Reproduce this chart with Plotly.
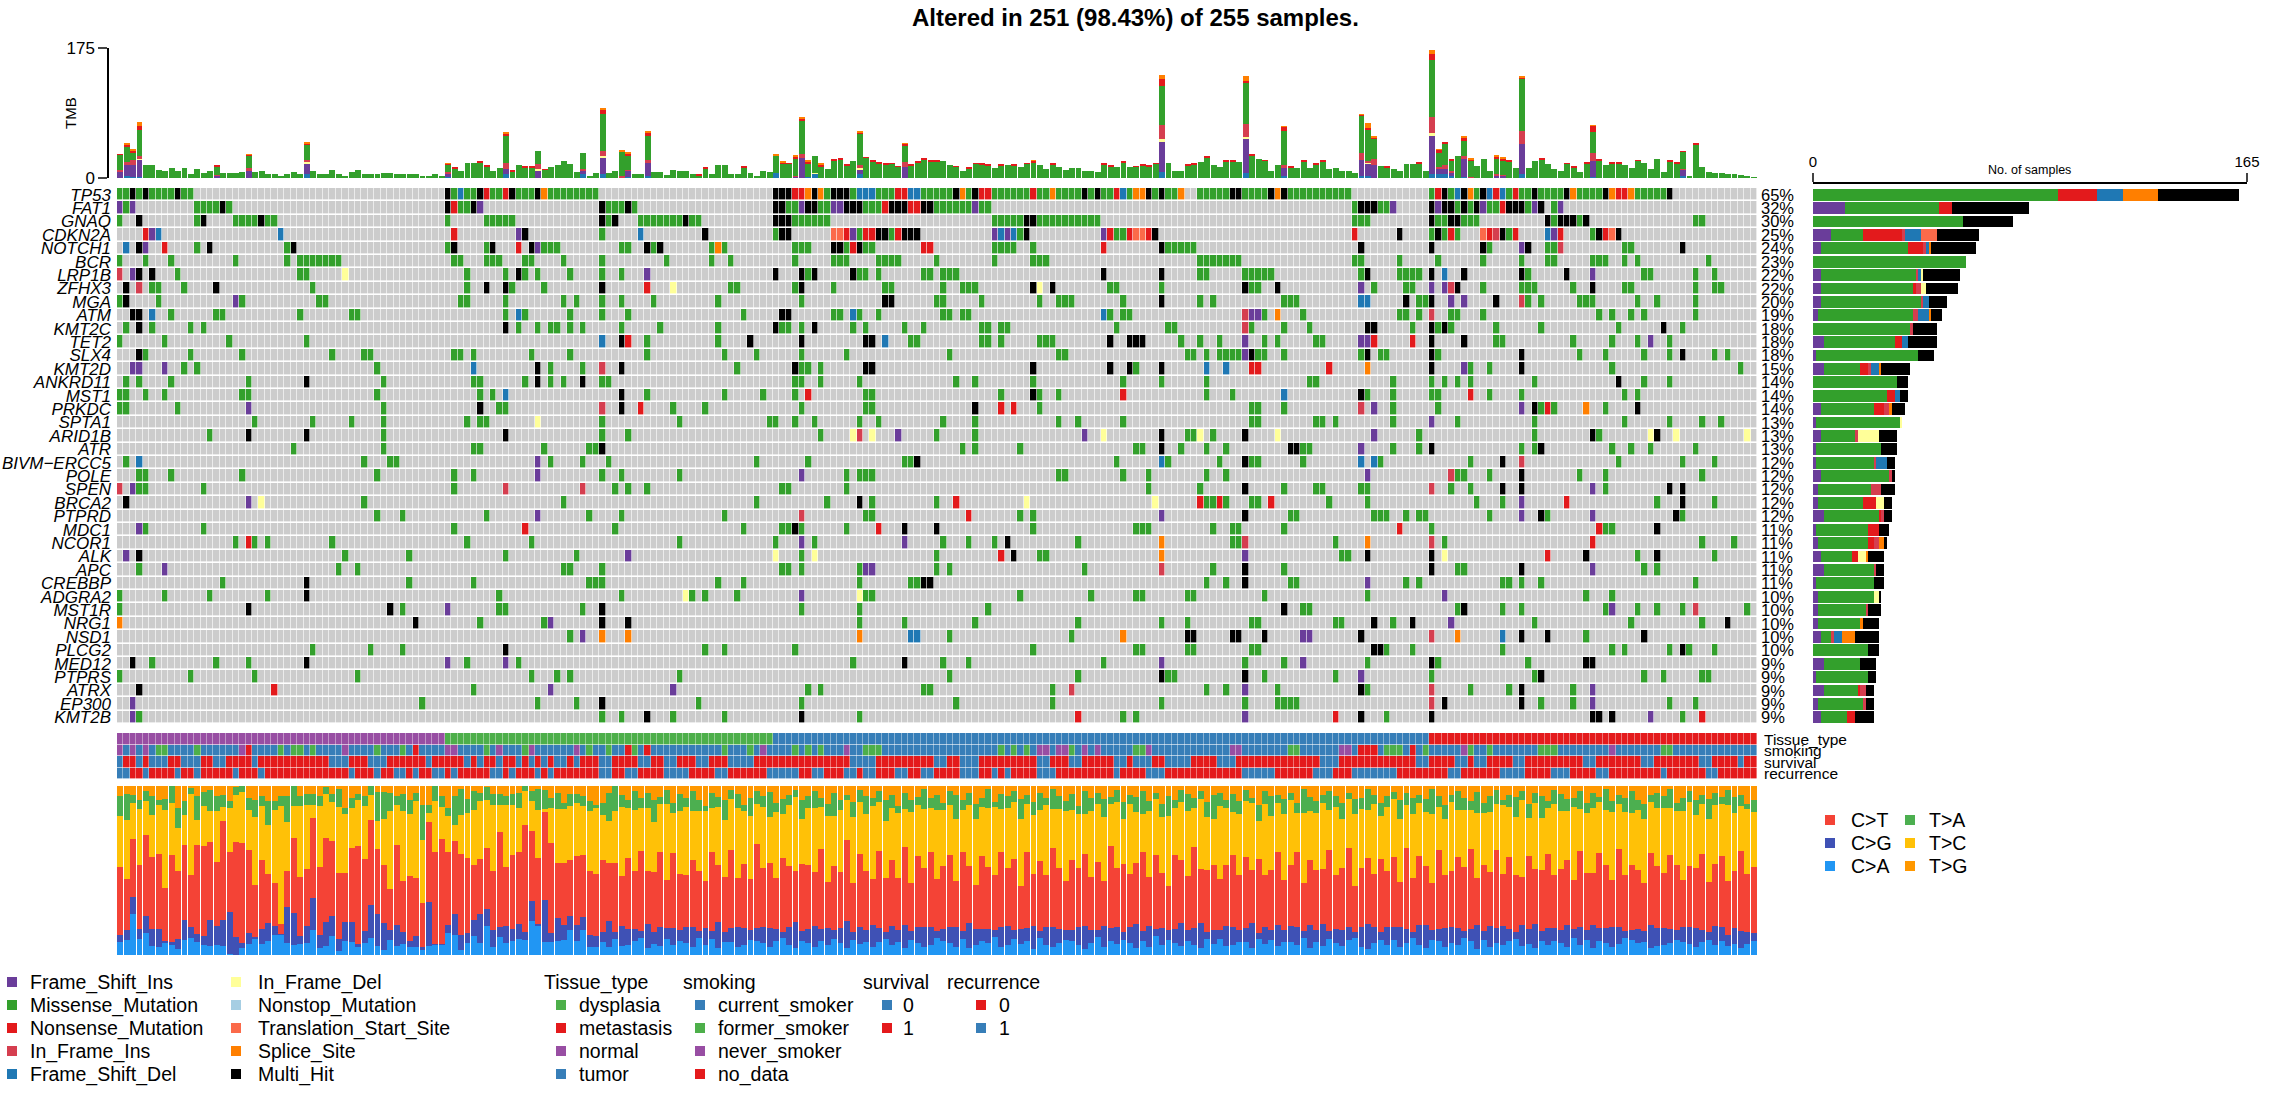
import plotly.graph_objects as go

W, H = 2272, 1097
N = 255
TITLE = "Altered in 251 (98.43%) of 255 samples."

GENES = ["TP53","FAT1","GNAQ","CDKN2A","NOTCH1","BCR","LRP1B","ZFHX3","MGA","ATM","KMT2C","TET2","SLX4","KMT2D",
         "ANKRD11","MST1","PRKDC","SPTA1","ARID1B","ATR","BIVM\u2212ERCC5","POLE","SPEN","BRCA2","PTPRD","MDC1",
         "NCOR1","ALK","APC","CREBBP","ADGRA2","MST1R","NRG1","NSD1","PLCG2","MED12","PTPRS","ATRX","EP300","KMT2B"]
PERCENT = [65,32,30,25,24,23,22,22,20,19,18,18,18,15,14,14,14,13,13,13,12,12,12,12,12,11,11,11,11,11,10,10,10,10,10,9,9,9,9,9]

VARIANTS = ["Frame_Shift_Ins","Missense_Mutation","Nonsense_Mutation","In_Frame_Ins","Frame_Shift_Del",
            "In_Frame_Del","Nonstop_Mutation","Translation_Start_Site","Splice_Site","Multi_Hit"]
VARIANT_CODES = ["P","M","N","I","D","F","S","T","O","K"]
VARIANT_COLORS = ["#6A3D9A","#33A02C","#E31A1C","#D53E4F","#1F78B4","#FFFF99","#A6CEE3","#FB6A4A","#FF7F00","#000000"]

# sample positions of each alteration, one string per gene
CALLS = [
"M:0,1,3,5-8,10,11,52,54,55,58,59,62-64,67-74,110,114,118-120,125-129,132,136-141,143,144,146-149,151,153,154,157,161,163,164,168-172,175-178,182-191,204,207,211,216,218,219,221-224,227-230,236-240 K:2,4,9,51,56,61,65,102-104,108,111-113,130,133,150,152,160,162,173,174,179,181,206,209,212,220,225,231,241 D:53,115-117,123,124,156,208,213,215 N:57,60,105,106,121,122,134,135,142,155,205,214,217,233,234 O:66,107,109,131,145,158,159,165,180,210,226,232,235",
"P:0,2,56,106,111,112,133,198,205,212,220,224 M:1,12-15,17,53,54,76-78,80,104,105,109,110,116-118,127-132,134,135,192,196,197,208,210,213,214,219,223 K:16,51,55,75,79,102,103,107,108,113-115,120-122,125,126,193-195,204,206,207,209,211,216-218,221 N:52,119,123,124,215",
"M:0,12,18-21,23,24,51,57-61,76,81-87,89,90,105-110,136-140,143-152,192-194,205,206,209-211,223,227,245,246 K:3,13,22,75,77,88,102-104,141,142,204,207,208,222,224-226,228",
"N:4,52,113,116,117,121,154,157,160,192,207,213,217,224,231 P:5,62,114,136,138,153,223 D:6,25,81,137,139,222 K:63,91,103,104,118,119,122-124,141,161,199,205,215,230,233 M:75,102,115,120,140,155,156,204,206,208,216,229 T:111,112,158,159,212,232 I:214",
"D:1 K:3,14,27,52,58,64,82,84,111,112,115,162,193,204,212,219,243 P:4,65,218 N:7,62,114,125,126,153 M:12,26,51,57,66-68,78,79,83,92,94,105-107,113,116,117,136-139,142,163-167,213,222,223,234,235 O:93 I:224",
"M:0,4,8,18,26,28-34,52,53,57-59,63,64,69,75,85,92,95,105,111-113,118-121,127,136,142-144,168-174,192,193,199,205,212,218,222,223,229-231,234,236,247",
"I:0 P:2,82,229 K:3,5,62,102,106,108,114,153,162,194,204,209,218,225 M:9,28,29,54,60,63,65,70,75,78,107,115,116,118,125,126,128-130,168,169,175-179,193,199-202,219,237,238,245,248 F:35 D:206",
"K:1,15,57,60,75,106,142,145,175,180,208,229 I:3,207 M:5,6,10,30,54,61,66,95,96,105,111,119,120,128,131-133,154,155,162,176,177,195,200,201,212,218-220,226,234,235,245,248,249 N:82 F:86,143 P:193,204,206",
"M:0,6,19,31,32,53,54,60,69,71,75,78,83,93,106,127,128,134,143,146-148,156,168,170,181-183,202,203,219,221,227-229,236,239,245 K:1,119,120,162,200,204,214 P:18,207,209 D:193,194 I:218",
"K:2,3,103,104 D:5,62,114,153 M:8,15,16,28,36,37,60,63,70,75,79,97,111,112,115,118,128,129,131,132,154,156,157,178,184,199,200,202,207,208,212,230,232,235,237,245 I:175,204 P:176,177 O:180",
"M:1,5,11,13,62,65,67,68,70,72,78,84,93,103,104,106,114,116,122,125,134,135,137,138,155,163,164,176,181,185,201,205,207,214,221,233,243 K:3,60,102,108,194,195,204,206,240 I:175",
"M:0,7,17,29,82,93,123,124,134,135,137,143-145,165,168,171,178,180,186,187,214,215,226,232,236,241 D:75,119 K:78,98,106,116,117,154,157-159,204,209 N:79,195,201 P:175,193,194,238",
"K:3,176,194,204,218,243 M:4,11,19,33,38,39,52,53,55,64,70,82,94,99,106,113,129,146,147,166,167,169,171-174,177,178,181,193,196,197,205,227,231,237,241,248,250 P:175",
"P:2,3,7,209 M:10,12,40,67,72,96,106,107,109,158,210,213,232,252 D:55,169,172 K:65,78,105,116,117,142,154,157,162,204,218 I:75 N:176,177,188 O:194",
"M:1,3,8,20,41,55,56,63,67,69,75,76,105,106,109,115,130,133,142,156,162,169,185,186,198,204,206,208,210,220,237,241 K:29,65,72,233",
"M:0,1,4,7,19,20,40,56,58,82,94,100,105,116,117,137,143,146,169,173,194,198,204,205,213,218,234,236 D:60,181 K:78,142,193 N:107,156,210",
"M:0,1,9,41,59,60,86,91,106,116,117,143,176,177,181,198,205,221,223,231 P:20,195,218 K:56,78,133,220,236 I:75,193 N:81,137,139,222 O:228",
"M:21,30,36,41,54,56,57,75,87,101,102,105,108,115,118,128,133,146,149,156,176,177,186,187,189,198,208,220,234,241,246,249 F:65 P:204",
"M:14,41,75,79,109,127,133,166,167,170,202,220,230 K:20,29,60,162,175,229,239 F:114,117,153,168,180,238,242,253 I:115 P:121,150,195",
"M:27,41,55,56,66,73,74,131,133,140,158,159,165,169,172,184,185,198,202,218,220,232,235,238,245 K:75,162,182,183,204,221 P:193",
"M:1,38,42,43,67,72,76,99,107,122,123,155,163,171,176,177,184,196,210,233,243,248 D:3,162,193,195 P:65 K:124,175,215 I:218",
"M:3,4,8,19,40,52,55,75,78,87,113,115-117,146,147,156,160,169,172,208,209,213,227,231,246 P:65,106,194 I:207 K:218",
"I:0,60,72,204 P:2,229 M:3,4,13,52,77,79,82,103,104,113,160,168,181,186,187,193,194,207,210,231 K:175,215,218,241,243",
"K:1,115,243 P:20,218 F:22,141,161 M:38,69,99,110,117,127,169,170,172,176,177,188,194,211,215,239,248 N:130,168,171,179,225",
"M:40,44,57,73,78,94,116,117,140,142,182,183,195-197,200,202,203,213,222,243 P:65,162,218,229 I:106 N:132 K:175,221,242",
"P:3 M:4,13,52,77,97,103,104,106,113,142,158-160,170,173,174,181,204,231,232 N:63,118,199,230 K:105,122,127,239",
"M:18,21,23,33,54,64,87,102,108,128,132,136,149,173,174,189,206,246,251 N:20,229 P:106,122 K:138 O:162,194 I:175,204",
"P:1,79,175 K:3,139,194,204,228,239 M:35,45,60,71,106,127,143,144,190,191,236,248 F:102,108,206 N:137,222 O:162",
"M:3,34,37,69,70,75,103,104,106,115,127,129,150,170,181,208,209,237,239 P:7,116,117,229 I:162 K:175,204,218",
"M:16,45,55,73-75,93,97,115,123,124,169,172,182,183,200,202,215,216,218,221,245 K:29,125,126,175 P:194",
"M:0,7,14,23,59,78,89,91,96,116,117,140,151,158,159,166,167,178,194,228,232 K:29 F:88,115 P:106,206",
"M:0,44,59,60,72,106,115,135,184,185,208,215,218,231,236,239,243,253 K:20,42,75,181,209 P:51,232 I:245",
"O:0 K:46,75,79,195,201,250 M:56,66,115,122,133,149,162,166,176,177,189,190,198,220,235,246 P:67,207",
"M:70,129,148,228 P:72,184,185 O:75,79,115,156,208 D:123,124,215 K:166,167,173,174,178,193,218,222,237 I:204",
"M:30,39,44,91,94,105,142,158,159,166,167,176,177,197,201,215,232,234,241,244,248 K:60,195,196,243",
"M:5,15,20,54,62,114,128,132,153,175,181,194,205,219 K:2,29,122,204,228,229 P:51,60,162,184",
"M:0,11,21,37,64,68,70,87,129,149,163,164,178,189,204,220,237,240,246,247 K:162,175,221 P:193",
"K:3,193,218 N:24 M:55,107,109,125,126,145,169,172,180,194,210,216,226 P:67,86,175,229 I:148,204",
"P:2,229 M:47,65,71,90,106,130,145,162,175,180-183,221,226,241,245 K:75,206,218 I:204",
"P:2,175,238 M:3,75,78,86,94,115,156,158,197,243 K:82,106,193,204,229,230,232 N:149,189,246",
]

TMB_TOTAL = [32,46,38,75,17,17,11,10,13,10,14,6,12,7,10,17,7,7,7,8,32,8,10,5,5,3,5,8,5,48,9,5,5,11,5,3,8,11,5,5,5,7,7,6,5,5,5,
             2,3,5,3,
             20,14,9,20,20,22,17,10,14,61,10,18,15,15,37,12,15,18,23,19,8,33,3,7,94,7,9,37,34,5,5,62,8,8,4,11,10,10,5,5,14,6,18,17,5,6,15,7,3,10,8,31,22,20,30,82,23,29,19,12,25,
             26,18,23,62,28,23,21,19,20,16,47,18,22,26,23,23,23,18,16,10,14,20,19,18,13,18,17,18,15,20,24,18,12,19,15,11,13,14,9,9,8,19,17,15,22,15,16,18,17,20,138,20,10,9,18,19,22,29,17,15,23,23,22,137,31,26,
             24,10,17,70,15,14,23,14,19,23,12,14,9,9,7,86,74,56,16,15,12,9,19,19,21,9,172,39,48,26,30,56,26,16,26,9,30,27,23,13,136,13,23,26,19,12,10,
             20,15,8,21,71,25,18,21,21,17,14,24,20,12,25,8,23,21,36,3,46,15,8,7,7,6,6,4,3,1]
# sample: (Frame_Shift_Del, Frame_Shift_Ins, In_Frame_Del, In_Frame_Ins, Nonsense, Splice); the remainder is Missense
TMB_PARTS = {0:(0,8,0,3,1,0),1:(3,15,0,4,2,1),2:(2,15,0,7,4,1),3:(1,24,1,4,6,5),15:(0,3,0,1,1,0),20:(0,10,0,3,1,1),29:(6,13,2,3,2,1),
             51:(2,3,0,3,1,1),60:(6,6,0,8,3,1),65:(0,9,3,7,0,0),72:(6,3,0,3,0,0),75:(5,22,2,7,5,3),78:(0,1,0,2,0,1),79:(1,9,0,1,3,1),82:(3,17,0,4,4,1),
             102:(7,0,0,0,0,1),103:(0,0,0,0,2,1),105:(0,2,0,1,3,1),106:(0,27,0,5,2,3),107:(1,0,0,0,2,1),108:(6,0,1,0,0,0),109:(0,0,0,0,2,1),
             115:(6,6,1,5,1,1),122:(0,15,0,6,2,1),142:(0,0,0,0,3,1),162:(8,41,3,20,9,5),175:(7,46,2,18,2,7),181:(3,11,0,3,6,1),
             193:(3,21,0,10,1,1),194:(3,17,1,2,2,7),195:(0,18,0,8,3,1),204:(6,51,3,22,8,5),205:(5,8,0,2,4,1),206:(5,7,0,5,1,0),207:(3,5,0,1,2,0),209:(1,24,0,5,5,1),
             210:(0,0,0,2,1,1),214:(0,4,0,1,3,1),215:(0,3,0,1,2,1),218:(5,41,0,17,1,1),229:(1,22,0,11,8,1),243:(3,8,0,1,1,0),245:(0,0,0,0,1,0)}
TMB_RED_TIP = [52,56,57,61,63,64,66,90,91,97,103,104,111,112,113,116,117,118,119,120,121,123,124,125,126,127,130,132,133,134,135,137,139,141,145,153,154,156,158,159,160,161,
               166,167,169,172,173,176,178,182,184,186,187,197,202,216,221,225,226,228,230,232,233,236,241,242]

ANNO_LABELS = ["Tissue_type","smoking","survival","recurrence"]
TISSUE_COUNTS = [("normal",51),("dysplasia",51),("tumor",102),("metastasis",51)]
SMOKING_FORMER = [6,7,12,25,27,28,30,40,44,57,63,73,76,80,94,98,105,107,109,116,117,118,137,139,141,148,158,159,182,183,197,198,199,203,210,213,221,222,223,240,241]
SMOKING_NEVER = [0,2,4,19,35,51,52,59,64,71,100,113,143,144,146,147,150,152,160,173,174,190,191,209,232]
SMOKING_NODATA = [20,46,79,82,193,194,195,201]
SURVIVAL_ZERO = [0,3,5,6,7,10,11,12,15,16,21,33,34,35,39,40,41,48,54,56,59,62,64,66,68,69,71,75,76,81,82,85,86,90,91,95,96,97,98,114,115,116,117,127,128,131,132,133,143,144,148,149,155,156,158,159,160,163,164,165,166,171,172,173,187,188,189,202,203,208,209,211,212,217,218,228,229,237,238,246,247,252]
RECURRENCE_ONE = [0,1,4,9,12,18,22,36,40,43,44,46,49,50,52,58,59,61,65,67,75,76,79,80,85,86,87,88,93,94,101,102,103,104,105,108,109,113,114,116,117,121,122,125,126,131,132,133,136,138,143,144,145,155,160,161,162,175,176,177,178,179,186,187,188,192,193,194,195,196,197,198,207,208,215,216,217,218,223,224,225,230,231,240,247,248]

SIG_NAMES = ["C>A","C>G","C>T","T>C","T>A","T>G"]
SIG_COLORS = ["#2196F3","#3F51B5","#F44336","#FFC107","#4CAF50","#FF9800"]
CA = [7.5,9,24,9.5,13,5.5,4.5,7.5,6.5,3.5,9,10,7.5,6,5.5,6,5.5,0.5,0,4,6.5,9.5,6.5,8.5,12,12,7,6,6.5,7,14.5,4,5.5,11,2.5,8.5,7.5,5,7,10,
      5.5,3,9,5.5,6.5,4.5,5,3,5.5,6,6,13,12,3,7,11,7,17,5,10.5,7,8.5,9.5,9,20,17,7.5,7.5,8.5,9,15,8.5,15,4.5,5,7.5,4.5,9.5,
      5,6,8,10,4,7,5,9,6,8,7,5,10,6,9,4,8,7,5,6,9,8,7,
      5,8,10,6,4,9,7,5,8,6,10,7,4,9,6,8,5,7,10,6,8,4,9,7,5,
      6,10,8,7,5,9,4,6,8,7,10,5,6,9,7,8,4,10,6,5,7,9,8,6,4,
      7,10,5,8,6,9,7,4,8,5,10,6,9,7,5,8,6,4,10,7,9,5,6,8,7,
      4,10,6,9,5,8,7,6,10,4,8,5,9,7,6,8,10,5,4,7,9,6,8,5,7,
      10,6,4,9,8,5,7,6,10,8,4,9,5,7,6,8,10,5,7,4,9,6,8,7,5,
      10,6,9,4,8,7,5,6,10,9,7,8,4,5,6,7,9,8,6,5,7,9,6,8,5,7,4,6,8]
CG = [4.5,5.5,10,6,10,10,11,1,1,6,12,6.5,5,5,15,11,15,25,11,3,6.5,1,9,10.5,5,0.5,21,19,5,10,19,8,14,12,7,11,12,1.5,7,19,
      19,16,6,12,7,4,6,2,26,0.5,0.5,5,12,9,6,10,17,10,10,6,10,7,9,4.5,12,1.5,25,5.5,14,9,8,9,7.5,7.5,6,6,16,4,
      12,9,7,4,14,8,11,6,10,7,9,12,4,10,5,15,7,8,12,10,6,7,9,
      12,7,4,10,14,6,8,12,7,11,5,9,15,5,10,7,13,8,4,11,7,14,5,9,12,
      10,4,7,9,13,5,15,10,7,8,4,12,11,5,9,7,14,4,10,12,8,6,7,11,14,
      8,4,13,7,10,5,9,15,6,12,4,11,6,8,13,7,10,14,4,9,5,12,11,7,8,
      15,4,10,6,12,7,9,11,4,14,7,13,5,8,10,7,4,12,15,9,5,10,7,13,8,
      4,11,14,6,7,12,9,10,4,7,15,5,13,8,11,7,4,12,9,14,6,10,7,8,13,
      5,11,6,14,7,9,12,10,4,6,8,7,13,11,10,8,6,9,10,12,7,5,11,8,6,10,9,7,5]
CT = [40,30.5,34,38,48,42,44,32,52,40,44,31,52,53,46,38,58,35,56,59,49,31,41,29,25,6,21,44,35,34,47.5,40,50,44,39,29,44,58,43,50,
      38,34,24,47,30,38,34.5,26,47,55,62,43,43,48,45,32,33,36,35,56,35,43.5,42.5,62,41,39,52,53,33,37,33,41,37,38,37,43,34,41,
      29,41,34,47,31,38,42,27,45,33,30,40,36,28,46,32,35,43,29,38,31,47,34,
      40,30,44,35,28,42,37,32,46,29,39,33,45,30,41,36,27,43,34,38,31,47,28,40,35,
      44,30,37,41,29,46,33,28,42,36,31,45,34,39,27,43,32,40,30,47,35,29,41,36,44,
      31,38,28,46,33,42,30,37,45,29,40,34,27,43,36,32,47,30,38,41,28,35,44,33,39,
      31,46,29,37,42,30,34,45,28,40,36,32,47,31,39,43,27,35,41,30,44,33,38,29,46,
      32,40,36,28,45,34,31,42,37,47,29,39,33,44,30,41,35,27,46,32,38,43,30,36,40,
      28,45,34,31,42,37,29,44,33,39,35,30,41,36,32,43,38,28,34,37,42,31,36,40,29,35,44,33,38]
TC = [30,34.7,21,33,20,25,29,47,31,25,18,48.5,15,24,18.5,30,8,26,28,30,24,40,32,29,43,70,29,19,42,38,8,36,26,23,39,35,24,27,31,15,
      17,27,46,24,41,37,45,37,5.5,30,19,21,9.5,23,27,33,34,28,39,16,37,30,26,20,17.5,29,2,21,32,32,32,31,29,35,39,27,25,31,
      40,29,36,25,37,32,27,43,24,37,39,29,35,41,25,33,36,28,42,31,38,22,35,
      29,39,26,35,40,28,33,38,24,41,31,37,22,40,29,34,43,27,35,30,39,23,42,29,35,
      25,40,33,28,39,24,36,41,28,34,38,26,35,31,42,27,36,29,40,23,34,41,30,33,25,
      39,32,40,24,37,28,40,31,22,39,30,35,43,27,33,38,23,39,32,29,41,33,26,37,31,
      39,24,40,33,28,40,36,24,41,30,34,38,23,39,31,27,43,35,29,40,26,37,31,41,24,
      38,30,33,41,25,36,39,28,33,23,41,31,37,26,40,29,35,43,24,38,32,27,40,34,30,
      42,25,36,39,28,33,41,26,37,31,35,40,29,34,38,27,32,41,36,33,28,39,34,30,41,36,25,37,32]
TA = [12,15,5,5.5,6,11,3,6.5,10,12,8,3.5,14,8,12,8.5,7.5,4,5,3.5,7,10,6,14,5,6,15,12,6,6.5,6,6,4,5,11,3.5,6,3.5,6,5,
      17,16,11,5,10,8.5,5,21,5,9,6.5,5,17,15,8,11,5,8,6,6,5,6,9,3,6,12,11,6,10,3.5,6.5,5,6,6,2,7,17,15,
      7,5,11,6,9,14,4,8,6,10,5,12,7,3,9,6,13,5,8,4,11,7,6,15,5,
      9,6,4,12,7,10,5,8,14,6,3,9,7,11,5,6,13,8,4,10,7,5,12,6,9,
      4,8,15,6,7,10,5,11,3,9,7,6,13,5,8,10,4,12,7,6,9,5,14,8,6,
      11,4,7,10,5,9,13,6,3,8,12,5,7,10,6,4,9,15,7,5,11,8,6,3,10,
      7,12,5,9,4,6,14,8,7,5,11,6,10,3,9,7,13,5,8,6,4,12,7,10,5,
      8,15,6,9,4,11,7,5,13,6,10,8,3,7,12,5,9,6,14,4,8,10,7,5,11,
      6,9,3,12,7,5,8,13,6,10,4,9,7,11,5,8,6,9,5,12,7,4,8,10,6,3,7]
TG = [6,5,5,8,3,6,8,8,0,13,9,1,6,3.5,2.5,6,5,9,0.5,0,7,8,6,9,9,6,6,0,6,5,5,6,0.5,4.5,1.5,13,7,5,6,0,
      3.5,3.5,4,6,5,8,4,11,11,0,6,13,6,2,8,3,4,0.5,5,5,6,5,4,0,3,2,2.5,7,4,10,5,5,6,9,11,10,4,0,
      5,8,3,7,4,9,6,2,10,5,7,3,8,12,4,6,9,2,5,11,7,3,6,4,10,
      8,5,2,9,6,3,7,11,4,8,5,10,2,6,7,3,9,5,12,4,8,6,2,7,5,
      10,3,6,8,4,11,7,2,9,5,6,3,8,5,10,4,7,2,6,9,5,12,3,7,4,
      8,6,2,10,5,7,3,9,4,11,6,8,2,5,7,3,10,6,4,8,5,9,2,7,12,
      3,6,5,8,4,10,2,7,9,5,3,6,11,4,8,7,2,5,10,6,3,9,4,7,5,
      8,2,6,12,5,3,7,9,4,10,6,2,8,5,7,3,11,4,6,9,2,5,8,7,3,
      10,4,6,2,9,5,7,3,8,11,5,4,6,2,10,7,3,9,5,8,4,6,2,7,5,10,8]

TISSUE_LEGEND = [("dysplasia","#4DAF4A"),("metastasis","#E41A1C"),("normal","#984EA3"),("tumor","#377EB8")]
SMOKING_LEGEND = [("current_smoker","#377EB8"),("former_smoker","#4DAF4A"),("never_smoker","#984EA3"),("no_data","#E41A1C")]
SURVIVAL_LEGEND = [("0","#377EB8"),("1","#E41A1C")]
RECURRENCE_LEGEND = [("0","#E41A1C"),("1","#377EB8")]

FONT = "Liberation Sans"
def px(x): return x / W
def py(y): return 1 - y / H

def parse(call):
    out = {}
    for chunk in call.split():
        code, items = chunk.split(":")
        for it in items.split(","):
            if "-" in it:
                a, b = it.split("-")
                for k in range(int(a), int(b) + 1):
                    out[k] = code
            else:
                out[int(it)] = code
    return out

rows = [parse(c) for c in CALLS]
code_index = {c: i + 1 for i, c in enumerate(VARIANT_CODES)}
z = [[code_index[r[i]] if i in r else 0 for i in range(N)] for r in rows]
samples = list(range(N))

sig_lists = [CA, CG, CT, TC, TA, TG]
assert all(len(v) == N for v in sig_lists), [len(v) for v in sig_lists]
assert len(TMB_TOTAL) == N, len(TMB_TOTAL)

fig = go.Figure()

# TMB
parts = {i: [0] * 6 for i in samples}
for k, v in TMB_PARTS.items():
    parts[k] = list(v)
for k in TMB_RED_TIP:
    if parts[k][4] == 0:
        parts[k][4] = 1
TMB_MISS = [max(TMB_TOTAL[i] - sum(parts[i]), 0) for i in samples]
stack = [("D", "#1F78B4", 0), ("P", "#6A3D9A", 1), ("F", "#FFFF99", 2), ("I", "#D53E4F", 3), ("M", "#33A02C", None), ("N", "#E31A1C", 4), ("O", "#FF7F00", 5)]
for name, col, idx in stack:
    vals = TMB_MISS if idx is None else [parts[i][idx] for i in samples]
    fig.add_trace(go.Bar(x=samples, y=vals, marker=dict(color=col, line_width=0), xaxis="x", yaxis="y", showlegend=False, hoverinfo="skip"))

# main matrix
cs = []
n = len(VARIANT_COLORS) + 1
for i, c in enumerate(["#CCCCCC"] + VARIANT_COLORS):
    cs += [[i / n, c], [(i + 1) / n, c]]
fig.add_trace(go.Heatmap(z=[[v + 0.5 for v in row] for row in z], x=samples, y=list(range(len(GENES))), colorscale=cs, zmin=0, zmax=n, showscale=False,
                         xgap=0.6, ygap=1.6, xaxis="x2", yaxis="y2", hoverinfo="skip"))

# gene bars
for name, code, col in zip(VARIANTS, VARIANT_CODES, VARIANT_COLORS):
    counts = [sum(1 for v in r.values() if v == code) for r in rows]
    fig.add_trace(go.Bar(y=list(range(len(GENES))), x=counts, orientation="h", marker=dict(color=col, line_width=0), width=0.88,
                         xaxis="x3", yaxis="y3", showlegend=False, hoverinfo="skip"))

# annotation tracks: 1 red, 2 blue, 3 green, 4 purple
TISSUE_CODE = {"normal": 4, "dysplasia": 3, "tumor": 2, "metastasis": 1}
tissue = []
for name, cnt in TISSUE_COUNTS:
    tissue += [TISSUE_CODE[name]] * cnt
smoking = [3 if i in SMOKING_FORMER else 4 if i in SMOKING_NEVER else 1 if i in SMOKING_NODATA else 2 for i in samples]
survival = [2 if i in SURVIVAL_ZERO else 1 for i in samples]
recurrence = [2 if i in RECURRENCE_ONE else 1 for i in samples]
anno_cols = ["#E41A1C", "#377EB8", "#4DAF4A", "#984EA3"]
cs2 = []
for i, c in enumerate(anno_cols):
    cs2 += [[i / 4, c], [(i + 1) / 4, c]]
fig.add_trace(go.Heatmap(z=[tissue, smoking, survival, recurrence], x=samples, y=list(range(4)), colorscale=cs2, zmin=0.5, zmax=4.5,
                         showscale=False, xgap=0.4, ygap=0.6, xaxis="x4", yaxis="y4", hoverinfo="skip"))

# signature: stacked columns shown as shares of each sample's total
sig_totals = [sum(v[i] for v in sig_lists) for i in samples]
for name, col, vals in zip(SIG_NAMES, SIG_COLORS, sig_lists):
    fig.add_trace(go.Bar(x=samples, y=[v * 100 / t for v, t in zip(vals, sig_totals)], marker=dict(color=col, line_width=0),
                         xaxis="x5", yaxis="y5", showlegend=False, hoverinfo="skip"))

X0, X1 = 117, 1757
xr = [-0.5, N - 0.5]
hidden = dict(visible=False, fixedrange=True, automargin=False)
fig.update_layout(
    template="none",
    width=W, height=H, margin=dict(l=0, r=0, t=0, b=0, pad=0, autoexpand=False), paper_bgcolor="white", plot_bgcolor="white",
    barmode="stack", bargap=0.08, font=dict(family=FONT, color="black", size=16), showlegend=False,
    xaxis=dict(domain=[px(X0), px(X1)], range=xr, anchor="y", **hidden),
    yaxis=dict(domain=[py(178), py(48)], range=[0, 175], anchor="free", position=px(108), tickvals=[0, 175], ticks="outside", ticklen=9,
               tickwidth=1.5, showline=True, linewidth=1.5, linecolor="black", showgrid=False, zeroline=False, tickfont=dict(size=17), fixedrange=True, automargin=False),
    xaxis2=dict(domain=[px(X0), px(X1)], range=xr, anchor="y2", **hidden),
    yaxis2=dict(domain=[py(724), py(188)], range=[39.5, -0.5], anchor="x2", tickvals=list(range(40)), ticktext=[f"<i>{g}</i>" for g in GENES],
                ticks="", showline=False, showgrid=False, zeroline=False, tickfont=dict(size=17), ticklabelstandoff=5, fixedrange=True, automargin=False),
    xaxis3=dict(domain=[px(1813), px(2247)], range=[0, 165], anchor="free", position=py(183), side="top", tickvals=[0, 165], ticks="outside",
                ticklen=9, tickwidth=1.5, showline=True, linewidth=1.5, linecolor="black", showgrid=False, zeroline=False, tickfont=dict(size=15), fixedrange=True, automargin=False),
    yaxis3=dict(domain=[py(724), py(188)], range=[39.5, -0.5], anchor="x3", **hidden),
    xaxis4=dict(domain=[px(X0), px(X1)], range=xr, anchor="y4", **hidden),
    yaxis4=dict(domain=[py(779), py(733)], range=[3.5, -0.5], anchor="x4", **hidden),
    xaxis5=dict(domain=[px(X0), px(X1)], range=xr, anchor="y5", **hidden),
    yaxis5=dict(domain=[py(955), py(786)], range=[0, 100], anchor="x5", **hidden),
)

ann = []
def text(x, y, s, size=19.5, anchor="left", **kw):
    ann.append(dict(x=px(x), y=py(y), xref="paper", yref="paper", text=s, showarrow=False, xanchor=anchor, yanchor="middle",
                    font=dict(family=FONT, size=size, color="black"), **kw))
shapes = []
def swatch(x, y, col, s=10):
    shapes.append(dict(type="rect", xref="paper", yref="paper", x0=px(x - s / 2), x1=px(x + s / 2), y0=py(y + s / 2), y1=py(y - s / 2),
                       fillcolor=col, line_width=0))

text(1135, 17, f"<b>{TITLE}</b>", size=24, anchor="center")
text(71, 113, "TMB", size=15, anchor="center", textangle=-90)
text(2029, 170, "No. of samples", size=12.5, anchor="center")
for i, p in enumerate(PERCENT):
    text(1759, 188 + 13.4 * (i + 0.5), f"{p}%", size=16.5)
for i, s in enumerate(ANNO_LABELS):
    text(1762, 739 + 11.6 * i, s, size=15.5)

LEG_Y = [982, 1005, 1028, 1051, 1074]
for i in range(5):
    swatch(12, LEG_Y[i], VARIANT_COLORS[i])
    text(28, LEG_Y[i], VARIANTS[i])
    swatch(236, LEG_Y[i], VARIANT_COLORS[5 + i])
    text(256, LEG_Y[i], VARIANTS[5 + i])
for head, hx, sx, tx, items in [("Tissue_type", 542, 561, 577, TISSUE_LEGEND), ("smoking", 681, 700, 716, SMOKING_LEGEND),
                                ("survival", 861, 887, 901, SURVIVAL_LEGEND), ("recurrence", 945, 981, 997, RECURRENCE_LEGEND)]:
    text(hx, LEG_Y[0], head)
    for j, (lab, col) in enumerate(items):
        swatch(sx, LEG_Y[j + 1], col)
        text(tx, LEG_Y[j + 1], lab)
for j, (lab, col) in enumerate([("C>T", "#F44336"), ("C>G", "#3F51B5"), ("C>A", "#2196F3")]):
    swatch(1830, 820 + 23 * j, col)
    text(1849, 820 + 23 * j, lab)
for j, (lab, col) in enumerate([("T>A", "#4CAF50"), ("T>C", "#FFC107"), ("T>G", "#FF9800")]):
    swatch(1910, 820 + 23 * j, col)
    text(1927, 820 + 23 * j, lab)
fig.update_layout(annotations=ann, shapes=shapes)

fig.write_html("out.html", config=dict(displayModeBar=False), post_script="document.body.style.margin='0';document.body.style.overflow='hidden';")
